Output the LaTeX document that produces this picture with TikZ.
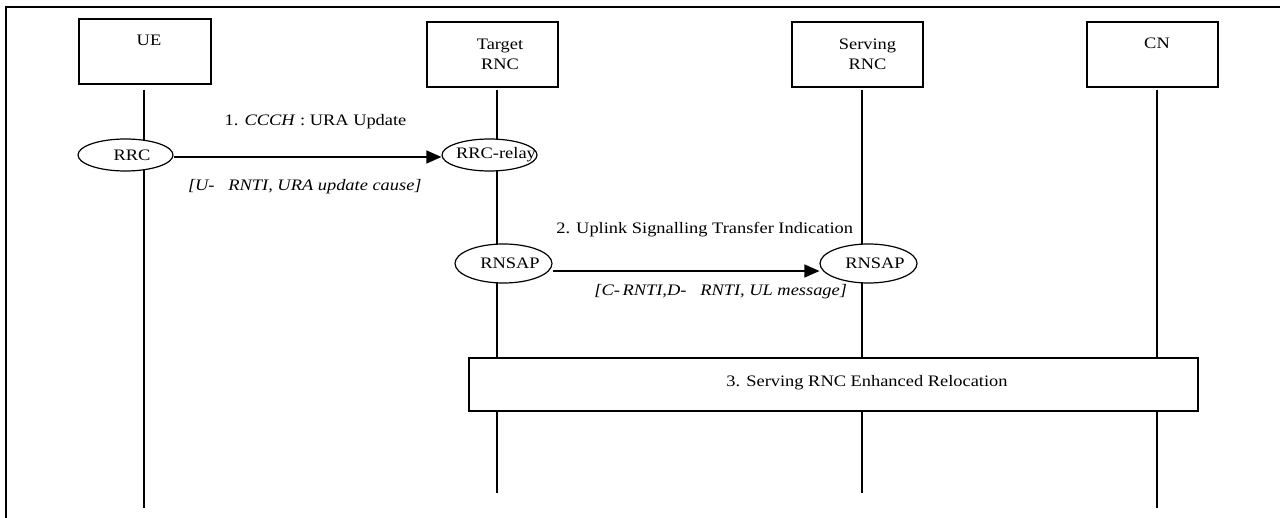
\documentclass[tikz,border=0pt]{standalone}
\usepackage{fontspec}
\setmainfont{Liberation Serif}[FakeStretch=1.15]
\usetikzlibrary{positioning}
\usetikzlibrary{shapes.geometric}
\usetikzlibrary{arrows.meta}

\tikzset{
	entity/.style={draw, line width=.6pt, minimum width=65.5pt, minimum height=32.5pt, inner sep=0pt},
	proto/.style={draw, ellipse, fill=white, line width=.6pt, minimum width=47.5pt, minimum height=16pt, inner sep=0pt,
		execute at begin node={\hbox to 0pt\bgroup\hss\hskip6.5pt}, execute at end node={\hss\egroup}},
	msg/.style={line width=.6pt, -{Triangle[length=7.5pt,width=6.5pt]}},
	life/.style={line width=.6pt}
}

\begin{document}
\begin{tikzpicture}[x=.5pt, y=-.5pt, font=\fontsize{8}{10}\selectfont]
	\useasboundingbox (0,0) rectangle (1280,518);
	\draw[line width=.6pt] (6,518) -- (6,7) -- (1280,7);

	% entities
	\node[entity, minimum width=66pt] (ue) at (145,51.5) {};
	\node[entity] (trnc) at (492.5,54.5) {};
	\node[entity] (srnc) at (857.5,54.5) {};
	\node[entity] (cn) at (1152.5,54.5) {};
	\node[below=5pt of ue.north, xshift=2pt] (uetxt) {UE};
	\node[align=center, xshift=3.75pt] (trnctxt) at (trnc) {Target\\RNC};
	\node[align=center, xshift=5pt] (srnctxt) at (srnc) {Serving\\RNC};
	\node[below=4.7pt of cn.north, xshift=2.25pt] (cntxt) {CN};

	% lifelines
	\coordinate (uebot) at (144,508);
	\coordinate (trncbot) at (497,493);
	\coordinate (srncbot) at (862,493);
	\coordinate (cnbot) at (1157,508);
	\draw[life, shorten <=2.5pt] (ue.south -| uebot) -- (uebot);
	\draw[life, shorten <=1pt] (trnc.south -| trncbot) -- (trncbot);
	\draw[life, shorten <=1pt] (srnc.south -| srncbot) -- (srncbot);
	\draw[life, shorten <=1pt] (cn.south -| cnbot) -- (cnbot);

	% protocol ends
	\node[proto] (rrc) at (125.5,155) {RRC};
	\node[proto] (relay) at (489.5,155) {RRC-relay};
	\node[proto, minimum width=48.5pt, minimum height=19.5pt] (rnsapt) at (503.5,263.5) {RNSAP};
	\node[proto, minimum width=48.5pt, minimum height=19.5pt] (rnsaps) at (868.5,263.5) {RNSAP};

	% messages
	\draw[msg] ([yshift=-1pt]rrc.east) -- node[pos=.53, yshift=17.5pt] (m1) {1. \textit{CCCH} : URA Update}
		node[pos=.49, yshift=-15pt] (m1p) {\textit{[U-\ \ \ RNTI, URA update cause]}} ([yshift=-1pt]relay.west);
	\draw[msg] ([yshift=-3.75pt]rnsapt.east) -- node[pos=.57, yshift=20.5pt] (m2) {2. Uplink Signalling Transfer Indication}
		node[pos=.63, yshift=-10.5pt] (m2p) {\textit{[C-\,RNTI,D-\ \ \ RNTI, UL message]}} ([yshift=-3.75pt]rnsaps.west);

	% relocation
	\node[draw, fill=white, line width=.6pt, minimum width=364.5pt, minimum height=26.5pt, inner sep=0pt] (reloc) at (833.5,384.5) {};
	\node (reloctxt) at ([xshift=16.75pt, yshift=.75pt]reloc.center) {3. Serving RNC Enhanced Relocation};
\end{tikzpicture}
\end{document}
